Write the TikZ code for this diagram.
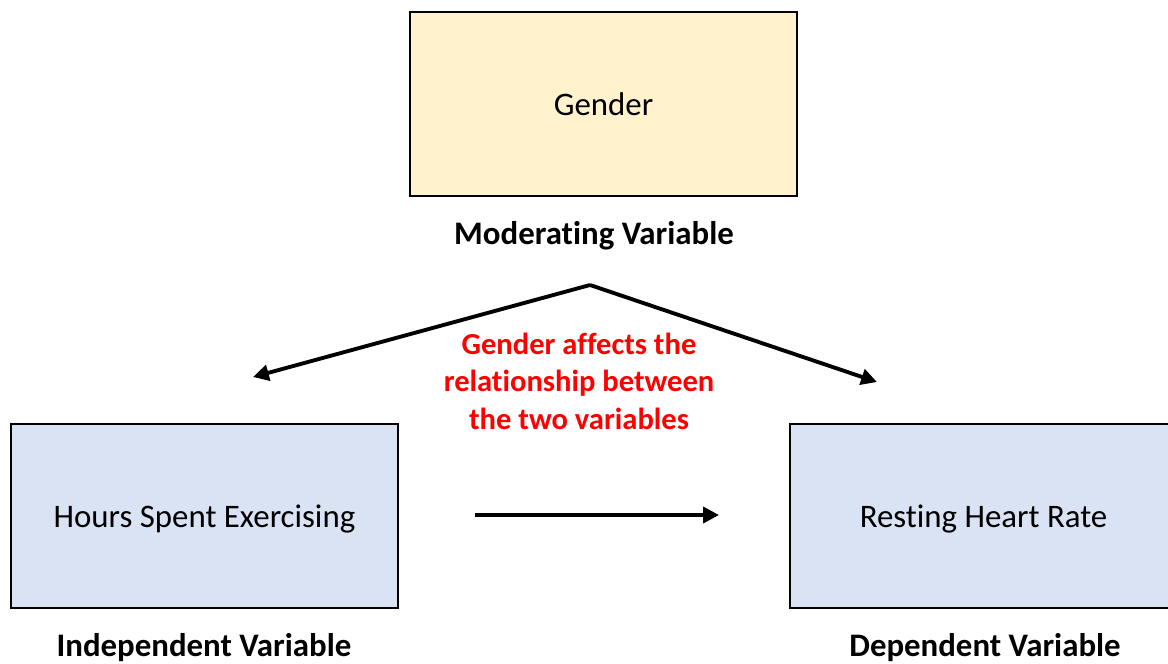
\documentclass[tikz,border=0pt]{standalone}
\usepackage{fontspec}
\setmainfont{Carlito}[Ligatures=NoCommon]
\usetikzlibrary{arrows.meta, positioning}
\definecolor{PaleYellow}{HTML}{FFF2CC}
\definecolor{PaleBlue}{HTML}{DAE3F3}
\definecolor{BrightRed}{HTML}{FF0000}

\begin{document}
\begin{tikzpicture}[
    x=0.02cm, y=-0.02cm,
    font=\fontsize{18.7}{22}\selectfont,
    varbox/.style={draw=black, line width=1.1pt, minimum width=7.74cm,
        minimum height=3.68cm, inner sep=0pt, align=center, text depth=0pt},
    varlabel/.style={font=\fontsize{18.7}{22}\selectfont\bfseries},
    link/.style={-{Triangle[length=9pt, width=9pt]}, line width=2.2pt},
]
\useasboundingbox (0,0) rectangle (1168,663);

% moderator (top)
\node[varbox, fill=PaleYellow] (gender) at (603.5,104) {Gender};
\node[varlabel] (modlabel) at (594,236) {Moderating Variable};

% independent and dependent variables
\node[varbox, fill=PaleBlue] (hours) at (204.5,516) {Hours Spent Exercising};
\node[varlabel] (indlabel) at (204,648) {Independent Variable};
\node[varbox, fill=PaleBlue] (heart) at (983.5,516) {Resting Heart Rate};
\node[varlabel] (deplabel) at (985,648) {Dependent Variable};

% effect of the moderator
\node[align=center, text=BrightRed,
      font=\fontsize{17.4}{21.3}\selectfont\bfseries] (effect) at (579,381)
    {Gender affects the\\relationship between\\the two variables};

\coordinate (apex) at (590,285);
\coordinate (leftend) at (253,377);
\coordinate (rightend) at (877,382);
\coordinate (xstart) at (475,515);
\coordinate (xend) at (719,515);

\draw[link] (apex) -- (leftend);
\draw[link] (apex) -- (rightend);
\draw[link] (xstart) -- (xend);

\end{tikzpicture}
\end{document}
